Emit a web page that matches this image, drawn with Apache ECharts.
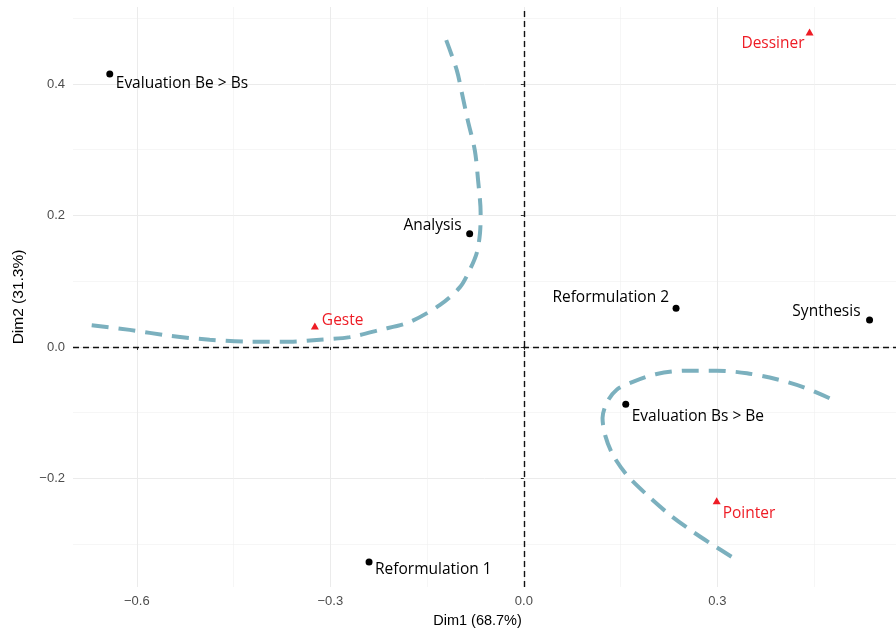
<!DOCTYPE html>
<html>
<head>
<meta charset="utf-8">
<script src="https://cdn.jsdelivr.net/npm/echarts@6/dist/echarts.min.js"></script>
<style>html,body{margin:0;padding:0;background:#fff}#c{width:896px;height:632px}</style>
</head>
<body>
<div id="c"></div>
<script>
// Active points (black circles)
const activeNames = ['Evaluation Be > Bs', 'Analysis', 'Reformulation 2', 'Synthesis', 'Evaluation Bs > Be', 'Reformulation 1'];
const activeDim1 = [-0.642, -0.084, 0.236, 0.536, 0.158, -0.240];
const activeDim2 = [0.415, 0.172, 0.059, 0.041, -0.087, -0.327];

// Supplementary points (red triangles)
const suppNames = ['Geste', 'Dessiner', 'Pointer'];
const suppDim1 = [-0.324, 0.443, 0.299];
const suppDim2 = [0.032, 0.479, -0.234];

// Curve 1 (left)
const curve1X = [-0.670, -0.611, -0.549, -0.487, -0.425, -0.363, -0.316, -0.270, -0.223, -0.177, -0.130, -0.099, -0.084, -0.073, -0.068, -0.067, -0.071, -0.076, -0.087, -0.096, -0.104, -0.122];
const curve1Y = [0.033, 0.026, 0.017, 0.011, 0.008, 0.008, 0.011, 0.015, 0.026, 0.038, 0.064, 0.091, 0.117, 0.143, 0.173, 0.204, 0.254, 0.299, 0.345, 0.386, 0.421, 0.471];

// Curve 2 (right)
const curve2X = [0.474, 0.433, 0.392, 0.346, 0.299, 0.253, 0.206, 0.169, 0.144, 0.129, 0.122, 0.126, 0.138, 0.160, 0.191, 0.226, 0.262, 0.293, 0.322];
const curve2Y = [-0.078, -0.061, -0.049, -0.040, -0.036, -0.036, -0.041, -0.053, -0.065, -0.084, -0.108, -0.134, -0.164, -0.195, -0.225, -0.255, -0.281, -0.301, -0.319];

// Axis ticks
const xMajorTicks = [-0.6, -0.3, 0.0, 0.3];
const xMinorTicks = [-0.45, -0.15, 0.15, 0.45];
const yMajorTicks = [-0.2, 0.0, 0.2, 0.4];
const yMinorTicks = [-0.3, -0.1, 0.1, 0.3, 0.5];
const xTitle = 'Dim1 (68.7%)';
const yTitle = 'Dim2 (31.3%)';

// label placement (style): [align, dx, dy]
const activeLabelPlace = [['left', 6, 10], ['right', -8, -8], ['right', -7, -11], ['right', -9, -8], ['left', 6, 12], ['left', 6, 8]];
const suppLabelPlace = [['left', 7, -5], ['right', -5, 12], ['left', 6, 13]];

const XMIN = -0.699, XMAX = 0.577, YMIN = -0.365, YMAX = 0.517;
const RED = '#ee1c25';
const fmt = v => {
  const s = Number(v).toFixed(1);
  return s.replace('-', '\u2212');
};
const labelFont = '"Open Sans", sans-serif';
const axisFont = '"Liberation Sans", Arial, sans-serif';

function mkLabel(place, color) {
  return {
    show: true, position: 'inside', align: place[0], verticalAlign: 'middle',
    formatter: '{b}',
    offset: [place[1], place[2]], color: color, fontSize: 15.5, fontFamily: labelFont
  };
}

const activeData = activeNames.map((n, i) => ({
  name: n, value: [activeDim1[i], activeDim2[i]],
  label: mkLabel(activeLabelPlace[i], '#000')
}));
const suppData = suppNames.map((n, i) => ({
  name: n, value: [suppDim1[i], suppDim2[i]],
  label: mkLabel(suppLabelPlace[i], RED)
}));

const gridLine = (w, c) => ({show: true, lineStyle: {color: c, width: w}});

const chart = echarts.init(document.getElementById('c'), null, {renderer: 'canvas'});
chart.setOption({
  animation: false,
  backgroundColor: '#fff',
  grid: {left: 73, right: 0, top: 7, bottom: 45, containLabel: false, outerBoundsMode: 'none'},
  xAxis: [{
    type: 'value', min: XMIN, max: XMAX, position: 'bottom',
    name: xTitle, nameLocation: 'middle', nameGap: 26,
    nameTextStyle: {fontSize: 14.5, color: '#000', fontFamily: axisFont, padding: [0, 14, 0, 0]},
    axisLine: {show: false},
    axisTick: {show: true, length: 3, lineStyle: {color: '#333', width: 1}, customValues: xMajorTicks},
    axisLabel: {show: true, customValues: xMajorTicks, formatter: fmt, margin: 8, fontSize: 13, color: '#4d4d4d', fontFamily: axisFont, showMinLabel: true, showMaxLabel: true},
    splitLine: gridLine(1, '#ebebeb')
  }, {
    type: 'value', min: XMIN, max: XMAX, position: 'bottom',
    axisLine: {show: false}, axisLabel: {show: false},
    axisTick: {show: false, customValues: xMinorTicks},
    splitLine: gridLine(0.6, '#f0f0f0')
  }],
  yAxis: [{
    type: 'value', min: YMIN, max: YMAX, position: 'left',
    name: yTitle, nameLocation: 'middle', nameGap: 46, nameRotate: 90,
    nameTextStyle: {fontSize: 15.5, color: '#000', fontFamily: axisFont},
    axisLine: {show: false},
    axisTick: {show: true, length: 3, lineStyle: {color: '#333', width: 1}, customValues: yMajorTicks},
    axisLabel: {show: true, customValues: yMajorTicks, formatter: fmt, margin: 8, fontSize: 13, color: '#4d4d4d', fontFamily: axisFont, showMinLabel: true, showMaxLabel: true},
    splitLine: gridLine(1, '#ebebeb')
  }, {
    type: 'value', min: YMIN, max: YMAX, position: 'left',
    axisLine: {show: false}, axisLabel: {show: false},
    axisTick: {show: false, customValues: yMinorTicks},
    splitLine: gridLine(0.6, '#f0f0f0')
  }],
  series: [
    {
      type: 'line', name: 'curve1', xAxisIndex: 0, yAxisIndex: 0,
      data: curve1X.map((x, i) => [x, curve1Y[i]]),
      showSymbol: false, smooth: 0.3, silent: true, z: 3,
      lineStyle: {color: '#7bb0be', width: 4, type: [17, 10]}
    },
    {
      type: 'line', name: 'curve2', xAxisIndex: 0, yAxisIndex: 0,
      data: curve2X.map((x, i) => [x, curve2Y[i]]),
      showSymbol: false, smooth: 0.3, silent: true, z: 3,
      lineStyle: {color: '#7bb0be', width: 4, type: [17, 10]}
    },
    {
      type: 'scatter', name: 'active', xAxisIndex: 0, yAxisIndex: 0,
      symbol: 'circle', symbolSize: 7, itemStyle: {color: '#000', opacity: 1},
      data: activeData, z: 5,
      markLine: {
        silent: true, symbol: 'none', label: {show: false},
        lineStyle: {color: '#111', width: 1.4, type: [6, 4]},
        data: [{xAxis: 0}, {yAxis: 0}]
      }
    },
    {
      type: 'scatter', name: 'supp', xAxisIndex: 0, yAxisIndex: 0,
      symbol: 'triangle', symbolSize: [8, 7], itemStyle: {color: RED, opacity: 1},
      data: suppData, z: 5
    }
  ]
});
</script>
</body>
</html>
